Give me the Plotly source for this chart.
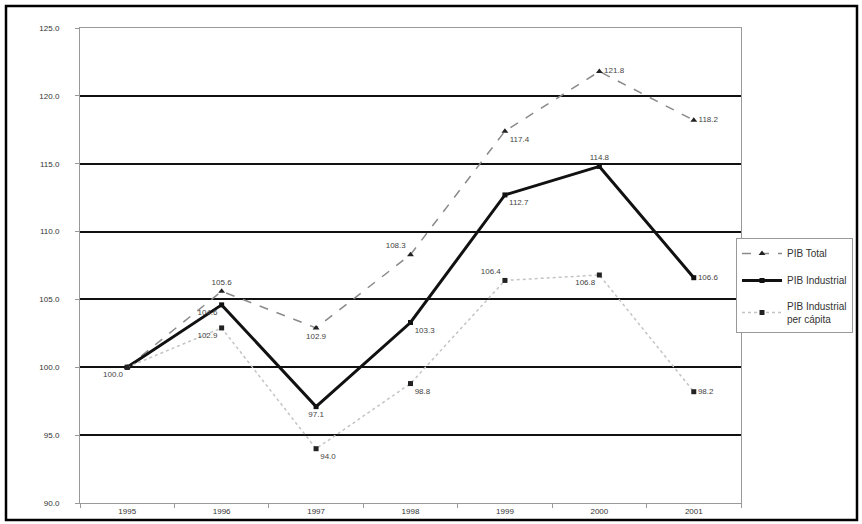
import plotly.graph_objects as go

# Index series (base year = 100)
years = ["1995", "1996", "1997", "1998", "1999", "2000", "2001"]
pib_total = [100.0, 105.6, 102.9, 108.3, 117.4, 121.8, 118.2]
pib_industrial = [100.0, 104.6, 97.1, 103.3, 112.7, 114.8, 106.6]
pib_ind_per_capita = [100.0, 102.9, 94.0, 98.8, 106.4, 106.8, 98.2]

series_names = ["PIB Total", "PIB Industrial", "PIB Industrial<br>per cápita"]
y_ticks = [90, 95, 100, 105, 110, 115, 120, 125]


def labels(values, skip_first=True):
    out = [f"{v:.1f}" for v in values]
    if skip_first:
        out[0] = ""
    return out


label_font = dict(family="Liberation Sans, Arial, sans-serif", size=8, color="#444")

fig = go.Figure()

fig.add_trace(go.Scatter(
    x=years, y=pib_total, name=series_names[0], legendgroup="total",
    mode="lines+markers+text",
    line=dict(color="#8a8a8a", width=1.5, dash="dash"),
    marker=dict(symbol="triangle-up", size=6, color="#222"),
    text=labels(pib_total),
    textposition=["top center", "top center", "bottom center", "top left",
                  "bottom right", "middle right", "middle right"],
    textfont=label_font,
))

fig.add_trace(go.Scatter(
    x=years, y=pib_industrial, name=series_names[1], legendgroup="industrial",
    mode="lines+markers+text",
    line=dict(color="#111", width=3),
    marker=dict(symbol="square", size=5, color="#111"),
    text=labels(pib_industrial, skip_first=False),
    textposition=["bottom left", "bottom left", "bottom center", "bottom right",
                  "bottom right", "top center", "middle right"],
    textfont=label_font,
))

fig.add_trace(go.Scatter(
    x=years, y=pib_ind_per_capita, name=series_names[2], legendgroup="percapita",
    mode="lines+markers+text",
    line=dict(color="#c4c4c4", width=1.5, dash="dot"),
    marker=dict(symbol="square", size=5, color="#222"),
    text=labels(pib_ind_per_capita),
    textposition=["bottom left", "bottom left", "bottom right", "bottom right",
                  "top left", "bottom left", "middle right"],
    textfont=label_font,
))

# Black frame around the whole chart
fig.add_shape(type="rect", xref="paper", yref="paper",
              x0=(6 - 80) / 661, x1=(857 - 80) / 661,
              y0=(503 - 520) / 475, y1=(503 - 6) / 475,
              line=dict(color="black", width=2.5), fillcolor="rgba(0,0,0,0)",
              layer="below")

fig.update_layout(
    width=862, height=524,
    margin=dict(l=80, r=121, t=28, b=21, autoexpand=False),
    paper_bgcolor="white", plot_bgcolor="white",
    font=dict(family="Liberation Sans, Arial, sans-serif", size=8, color="#333"),
    showlegend=True,
    legend=dict(
        x=(736 - 80) / 661, y=(503 - 238) / 475, xanchor="left", yanchor="top",
        bordercolor="#999", borderwidth=1, bgcolor="white",
        font=dict(size=10, color="#333"), tracegroupgap=8, itemwidth=40,
    ),
    xaxis=dict(
        type="category", range=[-0.5, 6.5],
        showline=True, linecolor="#999", linewidth=1, mirror=True,
        ticks="outside", tickson="boundaries", ticklen=4, tickcolor="#999",
        showgrid=False, tickfont=dict(size=8, color="#333"),
    ),
    yaxis=dict(
        range=[90, 125], tickvals=y_ticks, tickformat=".1f",
        showline=True, linecolor="#999", linewidth=1, mirror=True,
        ticks="outside", ticklen=4, tickcolor="#999", ticklabelstandoff=14,
        showgrid=True, gridcolor="#111", gridwidth=1.5,
        zeroline=False, tickfont=dict(size=8, color="#333"),
    ),
)

fig.write_html("out.html")
